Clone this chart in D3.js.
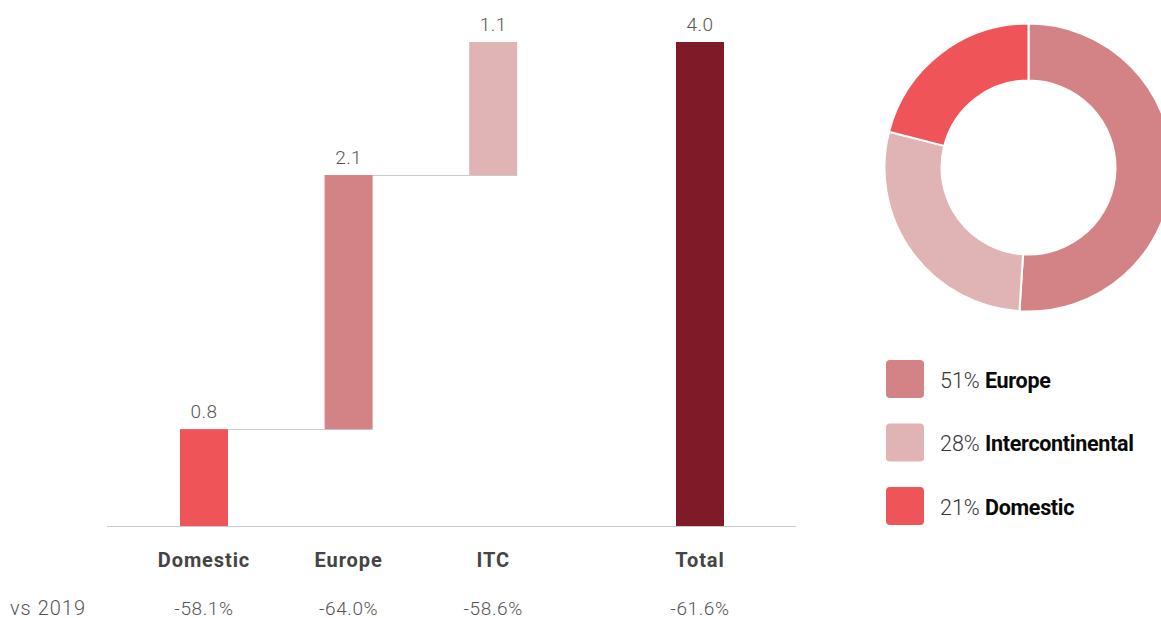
<!DOCTYPE html>
<html>
<head>
<meta charset="utf-8">
<script src="https://cdn.jsdelivr.net/npm/d3@7"></script>
<style>
  html, body { margin: 0; padding: 0; background: #fff; }
  svg { display: block; font-family: Roboto, "Noto Sans", sans-serif; }
</style>
</head>
<body>
<svg id="chart" width="1161" height="618"></svg>
<script>
// Waterfall: passenger volumes by network segment
const categories = ["Domestic", "Europe", "ITC", "Total"];
const values = [0.8, 2.1, 1.1, 4.0];
const isTotal = [false, false, false, true];
const vs2019 = ["-58.1%", "-64.0%", "-58.6%", "-61.6%"];
const barColors = ["#ef5459", "#d38285", "#e0b4b5", "#7f1b28"];

// Donut: share by segment
const shareLabels = ["Europe", "Intercontinental", "Domestic"];
const shareValues = [51, 28, 21];
const shareColors = ["#d38285", "#e0b4b5", "#ef5459"];

const svg = d3.select("#chart");

// Build waterfall start/end values
let running = 0;
const bars = categories.map((c, i) => {
  let start, end;
  if (isTotal[i]) { start = 0; end = values[i]; }
  else { start = running; end = running + values[i]; running = end; }
  return { cat: c, value: values[i], start, end, color: barColors[i], vs: vs2019[i], idx: i };
});

// Slot positions: the total sits a little further out from the segments
const slot = i => isTotal[i] ? i + 0.43 : i;
const x = d3.scaleLinear().domain([0, 3.43]).range([204, 700]);
const barW = 48;
const y = d3.scaleLinear().domain([0, 4.0]).range([526, 42]);

// Connector lines between successive segments
const conn = svg.append("g");
bars.forEach((b, i) => {
  if (i === 0 || isTotal[i]) return;
  const prev = bars[i - 1];
  conn.append("line")
    .attr("x1", x(slot(prev.idx)) - barW / 2)
    .attr("x2", x(slot(b.idx)) + barW / 2)
    .attr("y1", Math.round(y(b.start)) + 0.5)
    .attr("y2", Math.round(y(b.start)) + 0.5)
    .attr("stroke", "#c9cdcd")
    .attr("stroke-width", 1);
});

// Bars
svg.append("g").selectAll("rect")
  .data(bars)
  .join("rect")
  .attr("x", d => x(slot(d.idx)) - barW / 2)
  .attr("width", barW)
  .attr("y", d => y(d.end))
  .attr("height", d => y(d.start) - y(d.end))
  .attr("fill", d => d.color);

// Value labels
svg.append("g").selectAll("text")
  .data(bars)
  .join("text")
  .attr("x", d => x(slot(d.idx)))
  .attr("y", d => y(d.end) - 11.5)
  .attr("text-anchor", "middle")
  .attr("font-size", 19)
  .attr("font-weight", 300)
  .attr("letter-spacing", 0.4)
  .attr("fill", "#555")
  .text(d => d.value.toFixed(1));

// Baseline
svg.append("line")
  .attr("x1", 107).attr("x2", 796)
  .attr("y1", y(0) + 0.5).attr("y2", y(0) + 0.5)
  .attr("stroke", "#c9cdcd").attr("stroke-width", 1.2);

// Category labels
svg.append("g").selectAll("text")
  .data(bars)
  .join("text")
  .attr("x", d => x(slot(d.idx)))
  .attr("y", 567)
  .attr("text-anchor", "middle")
  .attr("font-size", 20)
  .attr("font-weight", 700)
  .attr("fill", "#444")
  .attr("letter-spacing", 0.9)
  .text(d => d.cat);

// vs 2019 row
svg.append("text")
  .attr("x", 10).attr("y", 615)
  .attr("font-size", 20).attr("font-weight", 300)
  .attr("letter-spacing", 1)
  .attr("fill", "#555")
  .text("vs 2019");
svg.append("g").selectAll("text")
  .data(bars)
  .join("text")
  .attr("x", d => x(slot(d.idx)))
  .attr("y", 615)
  .attr("text-anchor", "middle")
  .attr("font-size", 19)
  .attr("font-weight", 300)
  .attr("letter-spacing", 0.6)
  .attr("fill", "#555")
  .text(d => d.vs);

// Donut
const pie = d3.pie().sort(null).value(d => d.v);
const arc = d3.arc().innerRadius(87).outerRadius(144);
const pieData = pie(shareLabels.map((l, i) => ({ l, v: shareValues[i], c: shareColors[i] })));
svg.append("g")
  .attr("transform", "translate(1028.5,167.5)")
  .selectAll("path")
  .data(pieData)
  .join("path")
  .attr("d", arc)
  .attr("fill", d => d.data.c)
  .attr("stroke", "#fff")
  .attr("stroke-width", 2);

// Legend
const leg = svg.append("g").selectAll("g")
  .data(pieData.map(d => d.data))
  .join("g")
  .attr("transform", (d, i) => `translate(886, ${360 + i * 63.5})`);
leg.append("rect")
  .attr("width", 38).attr("height", 38)
  .attr("rx", 4).attr("ry", 4)
  .attr("fill", d => d.c);
const lt = leg.append("text")
  .attr("x", 54).attr("y", 27.5)
  .attr("font-size", 21.5)
  .attr("fill", "#0a0a0a");
lt.append("tspan").attr("font-weight", 300).attr("fill", "#333").text(d => d.v + "% ");
lt.append("tspan").attr("font-weight", 700).attr("letter-spacing", -0.3).text(d => d.l);
</script>
</body>
</html>
